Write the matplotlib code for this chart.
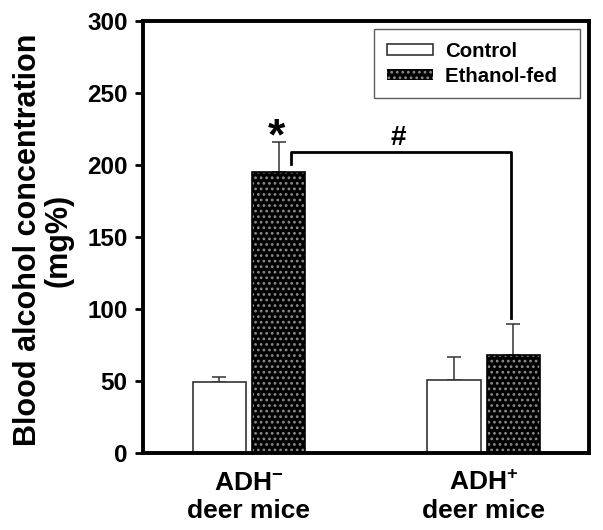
import matplotlib; matplotlib.use("Agg")
import matplotlib.pyplot as plt
from matplotlib.patches import Patch

plt.rcParams["font.family"] = ["Liberation Sans", "DejaVu Sans"]
plt.rcParams["font.weight"] = "bold"
plt.rcParams["mathtext.fontset"] = "custom"
plt.rcParams["mathtext.rm"] = "Liberation Sans:bold"
plt.rcParams["mathtext.bf"] = "Liberation Sans:bold"
plt.rcParams["mathtext.default"] = "bf"
plt.rcParams["hatch.linewidth"] = 1.2

groups = ["ADH$^{-}$\ndeer mice", "ADH$^{+}$\ndeer mice"]
control = [49.3, 50.7]
control_err = [3.5, 16.0]
ethanol = [195, 68]
ethanol_err = [21, 21.6]

x = [1, 2]
w = 0.226
off = 0.126

fig = plt.figure(figsize=(6.03, 5.30), dpi=100)
ax = fig.add_axes([0.237, 0.1453, 0.740, 0.8147])

xc = [v - off for v in x]
xe = [v + off for v in x]
ax.bar(xc, control, w, color="white", edgecolor="#333", lw=1.2, zorder=2)
ax.errorbar(xc, control, yerr=[[0, 0], control_err], fmt="none", ecolor="#333",
            elinewidth=1.1, capsize=5, capthick=1.1, zorder=1)
ax.bar(xe, ethanol, w, color="black", edgecolor="#8a8a8a", hatch="...", lw=0, zorder=2)
ax.bar(xe, ethanol, w, color="none", edgecolor="black", lw=1.2, zorder=3)
ax.errorbar(xe, ethanol, yerr=[[0, 0], ethanol_err], fmt="none", ecolor="#333",
            elinewidth=1.1, capsize=5, capthick=1.1, zorder=1)

# significance marks
ax.plot([xe[0] + 0.053, xe[0] + 0.053, xe[1] - 0.01, xe[1] - 0.01],
        [201, 209, 209, 94], color="black", lw=2)
ax.text(xe[0] - 0.01, ethanol[0] + ethanol_err[0] - 11, "*", ha="center", va="bottom",
        fontsize=32, fontweight="bold")
ax.text(1.635, 210, "#", ha="center", va="bottom", fontsize=20, fontweight="bold")

ax.set_xlim(0.548, 2.45)
ax.set_ylim(0, 300)
ax.set_yticks(range(0, 301, 50))
ax.set_xticks(x)
ax.set_xticklabels(groups, fontsize=19, linespacing=1.2)
ax.tick_params(axis="x", length=0, pad=13)
ax.tick_params(axis="y", direction="out", length=6, width=2, labelsize=17.5, pad=5)
for s in ax.spines.values():
    s.set_linewidth(2.8)
ax.set_ylabel("Blood alcohol concentration\n(mg%)", fontsize=22, fontweight="bold",
              linespacing=1.05)
ax.yaxis.set_label_coords(-0.155, 0.493)

handles = [Patch(facecolor="white", edgecolor="#333", lw=1.2),
           Patch(facecolor="black", edgecolor="#8a8a8a", hatch="...", lw=0)]
leg = ax.legend(handles, ["Control", "Ethanol-fed  "], loc="upper right",
                bbox_to_anchor=(0.980, 0.981), borderaxespad=0, fontsize=14.7,
                frameon=True, fancybox=False, handlelength=2.3, handleheight=0.5,
                borderpad=0.6, labelspacing=0.3, handletextpad=0.55)
leg.get_frame().set_edgecolor("#333")
leg.get_frame().set_linewidth(1.0)

fig.savefig("out.png", dpi=100)
